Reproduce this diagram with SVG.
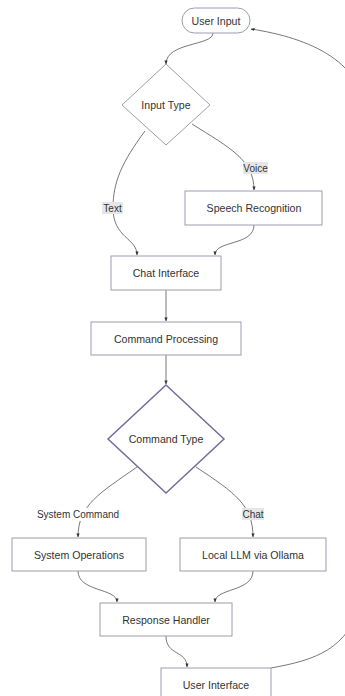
<svg xmlns="http://www.w3.org/2000/svg" width="345" height="696" viewBox="0 0 345 696">
  <defs>
    <marker id="arrow" viewBox="0 0 10 10" refX="9" refY="5" markerWidth="5" markerHeight="5" orient="auto-start-reverse">
      <path d="M0,1 L10,5 L0,9 z" fill="#333"/>
    </marker>
    <style>
      .node rect, .node polygon { fill: #ffffff; stroke: #9c9cb2; stroke-width: 1; }
      .node text { font-family: "Liberation Sans", Arial, sans-serif; font-size: 10.6px; fill: #333; text-anchor: middle; dominant-baseline: central; }
      .edge { fill: none; stroke: #555; stroke-width: 0.8; marker-end: url(#arrow); }
      .lbl rect { fill: #e6e6e6; }
      .lbl text { font-family: "Liberation Sans", Arial, sans-serif; font-size: 10px; fill: #333; text-anchor: middle; dominant-baseline: central; }
    </style>
  </defs>
  <rect width="345" height="696" fill="#ffffff"/>

  <g id="connectors">
    <path class="edge" d="M213,33 C213,46 166,42 166,64"/>
    <path class="edge" d="M145,131 C122,162 113,182 113,208 C113,238 137,238 137,255"/>
    <path class="edge" d="M192,124 C230,148 254,160 254,190"/>
    <path class="edge" d="M254,225 C254,246 215,240 215,255"/>
    <path class="edge" d="M166,290 L166,321"/>
    <path class="edge" d="M166,355 L166,384"/>
    <path class="edge" d="M137,467 C100,493 78,505 78,537"/>
    <path class="edge" d="M196,467 C235,493 253,505 253,537"/>
    <path class="edge" d="M78,571 C78,592 117,588 117,602"/>
    <path class="edge" d="M253,571 C253,592 215,588 215,602"/>
    <path class="edge" d="M166,636 C166,656 187,650 187,667"/>
    <path class="edge" d="M271,668 C315,660 348,650 362,600 L366,120 C366,62 310,38 251,29"/>
  </g>

  <g id="edge-labels">
    <g class="lbl"><rect x="102" y="202" width="21" height="12"/><text x="112.5" y="208">Text</text></g>
    <g class="lbl"><rect x="243" y="162" width="25" height="12"/><text x="255.5" y="168">Voice</text></g>
    <g class="lbl"><rect x="33" y="508" width="90" height="13" style="fill:#ffffff"/><text x="78" y="514.5">System Command</text></g>
    <g class="lbl"><rect x="242" y="508" width="22" height="12"/><text x="253" y="514">Chat</text></g>
  </g>

  <g id="user-input" class="node">
    <rect x="182" y="8" width="68" height="25" rx="12.5" ry="12.5"/>
    <text x="216" y="20.5">User Input</text>
  </g>
  <g id="input-type" class="node">
    <polygon points="166,64 210,105 166,145 122,105"/>
    <text x="166" y="105">Input Type</text>
  </g>
  <g id="speech-recognition" class="node">
    <rect x="185" y="191" width="137" height="34"/>
    <text x="254" y="208">Speech Recognition</text>
  </g>
  <g id="chat-interface" class="node">
    <rect x="111" y="256" width="110" height="34"/>
    <text x="166" y="273">Chat Interface</text>
  </g>
  <g id="command-processing" class="node">
    <rect x="91" y="322" width="150" height="33"/>
    <text x="166" y="338.5">Command Processing</text>
  </g>
  <g id="command-type" class="node">
    <polygon points="166,385 224,439 166,493 108,439" style="stroke:#6f6e9e;stroke-width:1.5"/>
    <text x="166" y="439">Command Type</text>
  </g>
  <g id="system-operations" class="node">
    <rect x="12" y="538" width="134" height="33"/>
    <text x="79" y="554.5">System Operations</text>
  </g>
  <g id="local-llm" class="node">
    <rect x="180" y="538" width="146" height="33"/>
    <text x="253" y="554.5">Local LLM via Ollama</text>
  </g>
  <g id="response-handler" class="node">
    <rect x="100" y="603" width="132" height="33"/>
    <text x="166" y="619.5">Response Handler</text>
  </g>
  <g id="user-interface" class="node">
    <rect x="161" y="668" width="110" height="34"/>
    <text x="216" y="685">User Interface</text>
  </g>
</svg>
